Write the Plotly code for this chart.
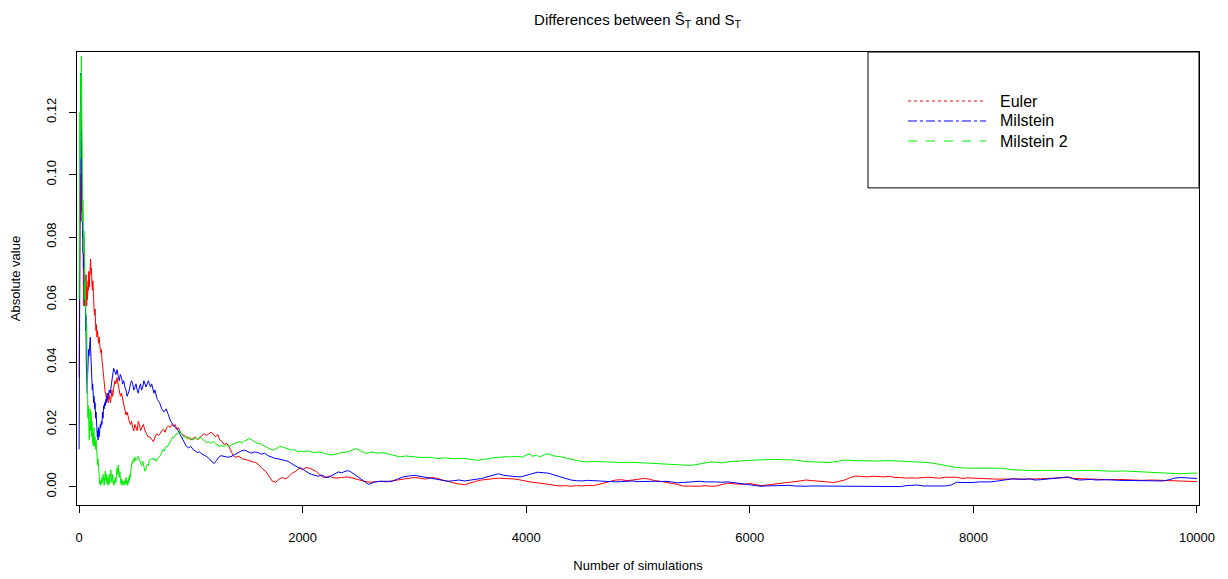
import plotly.graph_objects as go

# Euler (red, dotted)
euler_x = [1, 3, 5, 7, 9, 11, 13, 15, 17, 19, 21, 23, 25, 27, 29, 31, 33, 35, 37, 39, 41, 43, 45, 48, 51, 54, 57, 60, 63, 66, 69, 72, 75, 78, 81, 84, 87, 90, 93, 96, 100, 104, 108, 112, 116, 120, 124, 128, 132, 136, 140, 144, 148, 152, 156, 160, 165, 170, 175, 180, 185, 190, 195, 200, 205, 210, 215, 220, 225, 230, 235, 240, 245, 250, 255, 260, 265, 270, 275, 280, 285, 290, 295, 300, 310, 320, 330, 340, 350, 360, 370, 380, 390, 400, 410, 420, 430, 440, 450, 460, 470, 480, 490, 500, 510, 520, 530, 540, 550, 560, 575, 590, 605, 620, 635, 650, 665, 680, 695, 710, 725, 740, 755, 770, 785, 800, 815, 830, 845, 860, 875, 890, 905, 920, 940, 960, 980, 1000, 1020, 1040, 1060, 1080, 1100, 1120, 1140, 1160, 1180, 1200, 1220, 1240, 1260, 1280, 1300, 1320, 1340, 1360, 1380, 1400, 1430, 1460, 1490, 1520, 1550, 1580, 1610, 1640, 1670, 1700, 1730, 1760, 1790, 1820, 1850, 1880, 1910, 1940, 1970, 2000, 2030, 2060, 2090, 2120, 2150, 2180, 2210, 2240, 2270, 2300, 2350, 2400, 2450, 2500, 2550, 2600, 2650, 2700, 2750, 2800, 2850, 2900, 2950, 3000, 3050, 3100, 3150, 3200, 3250, 3300, 3350, 3400, 3450, 3500, 3550, 3600, 3650, 3700, 3750, 3800, 3850, 3900, 3950, 4000, 4050, 4100, 4150, 4200, 4250, 4300, 4350, 4400, 4450, 4500, 4550, 4600, 4650, 4700, 4750, 4800, 4850, 4900, 4950, 5000, 5050, 5100, 5150, 5200, 5250, 5300, 5350, 5400, 5450, 5500, 5550, 5600, 5650, 5700, 5750, 5800, 5850, 5900, 5950, 6000, 6050, 6100, 6150, 6200, 6250, 6300, 6350, 6400, 6450, 6500, 6550, 6600, 6650, 6700, 6750, 6800, 6850, 6900, 6950, 7000, 7050, 7100, 7150, 7200, 7250, 7300, 7350, 7400, 7450, 7500, 7550, 7600, 7650, 7700, 7750, 7800, 7850, 7900, 7950, 8000, 8100, 8200, 8300, 8400, 8500, 8600, 8700, 8800, 8850, 8900, 9000, 9100, 9200, 9300, 9400, 9500, 9600, 9700, 9800, 9900, 10000]
euler_y = [0.035, 0.062, 0.09, 0.075, 0.095, 0.085, 0.1, 0.09, 0.098, 0.088, 0.105, 0.095, 0.1, 0.092, 0.085, 0.09, 0.078, 0.08, 0.07, 0.075, 0.062, 0.058, 0.06, 0.066, 0.058, 0.064, 0.061, 0.065, 0.068, 0.06, 0.058, 0.064, 0.06, 0.062, 0.066, 0.063, 0.069, 0.066, 0.064, 0.068, 0.07, 0.073, 0.068, 0.07, 0.065, 0.063, 0.066, 0.06, 0.058, 0.056, 0.055, 0.057, 0.052, 0.05, 0.052, 0.048, 0.05, 0.047, 0.046, 0.048, 0.045, 0.044, 0.043, 0.044, 0.041, 0.039, 0.036, 0.034, 0.033, 0.031, 0.03, 0.03, 0.028, 0.03, 0.029, 0.027, 0.03, 0.028, 0.029, 0.027, 0.028, 0.03, 0.031, 0.029, 0.032, 0.034, 0.033, 0.035, 0.033, 0.031, 0.029, 0.03, 0.028, 0.027, 0.025, 0.023, 0.024, 0.022, 0.021, 0.02, 0.021, 0.019, 0.018, 0.02, 0.019, 0.018, 0.021, 0.02, 0.018, 0.019, 0.02, 0.018, 0.017, 0.016, 0.016, 0.015, 0.0145, 0.016, 0.017, 0.0165, 0.017, 0.018, 0.0185, 0.0175, 0.019, 0.0195, 0.019, 0.02, 0.0195, 0.02, 0.0185, 0.019, 0.0175, 0.017, 0.0165, 0.016, 0.0158, 0.015, 0.0155, 0.016, 0.015, 0.0158, 0.0165, 0.017, 0.0165, 0.017, 0.0175, 0.017, 0.016, 0.0168, 0.015, 0.0145, 0.0135, 0.014, 0.013, 0.0115, 0.01, 0.0095, 0.0098, 0.009, 0.0088, 0.0085, 0.008, 0.0078, 0.007, 0.0058, 0.005, 0.0035, 0.0018, 0.0015, 0.0025, 0.003, 0.0025, 0.0035, 0.0045, 0.005, 0.006, 0.0055, 0.0062, 0.006, 0.0055, 0.005, 0.004, 0.0032, 0.003, 0.0035, 0.003, 0.0028, 0.003, 0.0032, 0.0028, 0.0022, 0.0018, 0.0015, 0.0017, 0.0018, 0.0016, 0.002, 0.0022, 0.0025, 0.0028, 0.003, 0.0028, 0.0025, 0.003, 0.0028, 0.0022, 0.0017, 0.0012, 0.0009, 0.0007, 0.0013, 0.0018, 0.0022, 0.0025, 0.0026, 0.0028, 0.0027, 0.0028, 0.0025, 0.0022, 0.0018, 0.0015, 0.0013, 0.0011, 0.0008, 0.0005, 0.0003, 0.0004, 0.0002, 0.0004, 0.0003, 0.0005, 0.0004, 0.0008, 0.0012, 0.0016, 0.0022, 0.0023, 0.002, 0.0022, 0.0024, 0.0027, 0.0025, 0.002, 0.0018, 0.0015, 0.0012, 0.0008, 0.0003, 0.0002, 0.0003, 0.0002, 0.0004, 0.0002, 0.0003, 0.0008, 0.0012, 0.001, 0.0009, 0.0008, 0.0011, 0.0007, 0.0004, 0.0006, 0.0008, 0.0009, 0.0012, 0.0014, 0.0016, 0.0019, 0.0022, 0.002, 0.0018, 0.0017, 0.0015, 0.0014, 0.0018, 0.0022, 0.003, 0.0035, 0.0033, 0.0032, 0.0034, 0.0033, 0.0032, 0.0034, 0.003, 0.003, 0.0028, 0.0029, 0.0028, 0.003, 0.0031, 0.0029, 0.0028, 0.0031, 0.0032, 0.0031, 0.0027, 0.0029, 0.0028, 0.0026, 0.0025, 0.0025, 0.0024, 0.0025, 0.0026, 0.0028, 0.003, 0.003, 0.0027, 0.0025, 0.0024, 0.0023, 0.0024, 0.0022, 0.0021, 0.0022, 0.0021, 0.002, 0.0018, 0.0017]

# Milstein (blue, dash-dot)
milstein_x = [1, 3, 5, 7, 9, 11, 13, 15, 17, 19, 21, 23, 25, 27, 29, 31, 33, 35, 37, 39, 41, 44, 47, 50, 53, 56, 59, 62, 65, 68, 71, 74, 77, 80, 83, 86, 89, 92, 95, 98, 101, 104, 107, 110, 113, 116, 119, 122, 125, 128, 131, 134, 137, 140, 143, 146, 149, 152, 155, 158, 161, 164, 167, 170, 173, 176, 180, 185, 190, 195, 200, 205, 210, 215, 220, 225, 230, 235, 240, 245, 250, 255, 260, 265, 270, 280, 290, 300, 310, 320, 330, 340, 350, 360, 370, 380, 390, 400, 410, 420, 430, 440, 450, 460, 470, 480, 490, 500, 510, 520, 530, 540, 550, 560, 570, 580, 590, 600, 610, 620, 630, 640, 650, 660, 670, 680, 690, 700, 720, 740, 760, 780, 800, 820, 840, 860, 880, 900, 920, 940, 960, 980, 1000, 1020, 1040, 1060, 1080, 1100, 1130, 1160, 1190, 1210, 1230, 1250, 1270, 1300, 1330, 1360, 1390, 1420, 1450, 1480, 1510, 1540, 1570, 1600, 1630, 1660, 1690, 1720, 1750, 1780, 1810, 1840, 1870, 1900, 1930, 1960, 1990, 2020, 2050, 2080, 2110, 2140, 2170, 2200, 2230, 2260, 2290, 2320, 2350, 2380, 2410, 2440, 2470, 2500, 2530, 2560, 2590, 2620, 2650, 2700, 2750, 2800, 2850, 2900, 2950, 3000, 3050, 3100, 3150, 3200, 3250, 3300, 3350, 3400, 3450, 3500, 3550, 3600, 3650, 3700, 3750, 3800, 3850, 3900, 3950, 4000, 4050, 4100, 4150, 4200, 4250, 4300, 4350, 4400, 4450, 4500, 4550, 4600, 4650, 4700, 4750, 4800, 4850, 4900, 4950, 5000, 5050, 5100, 5150, 5200, 5250, 5300, 5350, 5400, 5450, 5500, 5550, 5600, 5650, 5700, 5750, 5800, 5850, 5900, 5950, 6000, 6050, 6100, 6150, 6200, 6250, 6300, 6350, 6400, 6450, 6500, 6550, 6600, 6650, 6700, 6750, 6800, 6850, 6900, 6950, 7000, 7050, 7100, 7150, 7200, 7250, 7300, 7350, 7400, 7450, 7500, 7550, 7600, 7650, 7700, 7750, 7800, 7850, 7900, 7950, 8000, 8050, 8100, 8150, 8200, 8250, 8300, 8350, 8400, 8450, 8500, 8550, 8600, 8650, 8700, 8750, 8800, 8850, 8900, 8950, 9000, 9050, 9100, 9200, 9300, 9400, 9500, 9600, 9700, 9750, 9800, 9850, 9900, 9950, 10000]
milstein_y = [0.012, 0.04, 0.09, 0.07, 0.11, 0.1, 0.125, 0.1325, 0.12, 0.1, 0.11, 0.095, 0.1, 0.09, 0.085, 0.088, 0.08, 0.082, 0.075, 0.078, 0.07, 0.08, 0.065, 0.072, 0.06, 0.066, 0.05, 0.055, 0.04, 0.033, 0.038, 0.03, 0.036, 0.042, 0.04, 0.044, 0.042, 0.045, 0.047, 0.046, 0.048, 0.044, 0.04, 0.035, 0.032, 0.034, 0.031, 0.033, 0.029, 0.03, 0.027, 0.029, 0.026, 0.025, 0.027, 0.023, 0.022, 0.024, 0.02, 0.018, 0.017, 0.016, 0.018, 0.015, 0.017, 0.019, 0.016, 0.018, 0.02, 0.019, 0.021, 0.02, 0.024, 0.022, 0.026, 0.025, 0.027, 0.026, 0.028, 0.027, 0.029, 0.028, 0.03, 0.029, 0.031, 0.03, 0.033, 0.035, 0.038, 0.037, 0.036, 0.0375, 0.035, 0.034, 0.036, 0.035, 0.033, 0.034, 0.032, 0.031, 0.029, 0.03, 0.031, 0.033, 0.034, 0.033, 0.031, 0.032, 0.033, 0.031, 0.03, 0.032, 0.033, 0.031, 0.032, 0.034, 0.033, 0.032, 0.033, 0.034, 0.033, 0.032, 0.033, 0.031, 0.03, 0.031, 0.029, 0.028, 0.027, 0.025, 0.024, 0.025, 0.023, 0.021, 0.02, 0.019, 0.0185, 0.017, 0.016, 0.0145, 0.013, 0.0125, 0.013, 0.012, 0.0115, 0.011, 0.0112, 0.0105, 0.01, 0.0092, 0.008, 0.0075, 0.0085, 0.0095, 0.01, 0.0098, 0.0095, 0.0097, 0.0103, 0.011, 0.0115, 0.0118, 0.0112, 0.0108, 0.0112, 0.011, 0.0105, 0.0108, 0.01, 0.0095, 0.0092, 0.009, 0.0088, 0.0086, 0.0082, 0.0075, 0.0068, 0.0062, 0.006, 0.0052, 0.0045, 0.004, 0.0036, 0.0034, 0.0038, 0.0032, 0.003, 0.0035, 0.0042, 0.0048, 0.0045, 0.005, 0.0052, 0.0046, 0.0038, 0.003, 0.0022, 0.0015, 0.0008, 0.0012, 0.0016, 0.0018, 0.0017, 0.0018, 0.0025, 0.0032, 0.0035, 0.0037, 0.0034, 0.0031, 0.0028, 0.0025, 0.0022, 0.0018, 0.002, 0.0022, 0.0019, 0.0021, 0.0024, 0.0027, 0.0032, 0.0038, 0.0042, 0.0037, 0.0034, 0.0033, 0.0032, 0.0036, 0.0042, 0.0047, 0.0046, 0.0044, 0.0038, 0.0033, 0.0028, 0.0022, 0.002, 0.0019, 0.0021, 0.002, 0.0018, 0.0019, 0.0017, 0.0016, 0.0017, 0.0018, 0.0019, 0.0017, 0.0018, 0.0019, 0.0018, 0.0017, 0.0018, 0.0016, 0.0013, 0.0014, 0.0016, 0.0017, 0.0018, 0.0016, 0.0017, 0.0016, 0.0015, 0.0016, 0.0014, 0.0012, 0.0011, 0.0007, 0.0004, 0.0002, 0.0003, 0.0004, 0.0005, 0.0006, 0.0005, 0.0003, 0.0002, 0.0002, 0.0003, 0.0003, 0.0002, 0.0003, 0.0002, 0.0001, 0.0002, 0.0002, 0.0001, 0.0002, 0.0003, 0.0003, 0.0002, 0.0003, 0.0002, 0.0002, 0.0001, 0.0004, 0.0006, 0.0006, 0.0003, 0.0003, 0.0002, 0.0001, 0.0003, 0.0006, 0.0015, 0.0014, 0.0013, 0.0014, 0.0016, 0.0015, 0.0016, 0.0018, 0.0021, 0.0024, 0.0026, 0.0025, 0.0024, 0.0026, 0.0022, 0.0023, 0.0025, 0.0027, 0.0028, 0.003, 0.0032, 0.0025, 0.0022, 0.0023, 0.0024, 0.0022, 0.0023, 0.0021, 0.002, 0.0019, 0.0018, 0.0019, 0.0023, 0.0028, 0.003, 0.0029, 0.0028, 0.0027]

# Milstein 2 (green, dashed)
milstein2_x = [1, 3, 5, 7, 9, 11, 13, 15, 17, 19, 21, 23, 25, 27, 29, 31, 33, 35, 37, 39, 41, 44, 47, 50, 53, 56, 59, 62, 65, 68, 71, 74, 77, 80, 83, 86, 89, 92, 95, 98, 101, 104, 107, 110, 113, 116, 119, 122, 125, 128, 131, 134, 137, 140, 143, 146, 149, 152, 155, 158, 161, 164, 167, 170, 173, 176, 179, 182, 185, 188, 191, 195, 200, 205, 210, 215, 220, 225, 230, 235, 240, 245, 250, 255, 260, 265, 270, 275, 280, 285, 290, 295, 300, 305, 310, 315, 320, 325, 330, 335, 340, 345, 350, 355, 360, 365, 370, 375, 380, 385, 390, 395, 400, 405, 410, 415, 420, 425, 430, 435, 440, 445, 450, 455, 460, 465, 470, 475, 480, 485, 490, 495, 500, 510, 520, 530, 540, 550, 560, 570, 580, 590, 600, 610, 620, 630, 640, 650, 660, 670, 680, 690, 700, 710, 720, 730, 740, 750, 760, 770, 780, 790, 800, 810, 820, 830, 840, 850, 860, 870, 880, 890, 900, 910, 920, 930, 940, 950, 960, 970, 980, 990, 1000, 1020, 1040, 1060, 1080, 1100, 1120, 1140, 1160, 1180, 1200, 1220, 1240, 1260, 1280, 1300, 1320, 1340, 1360, 1380, 1400, 1420, 1440, 1460, 1480, 1500, 1520, 1540, 1560, 1580, 1600, 1620, 1640, 1660, 1680, 1700, 1720, 1740, 1760, 1780, 1800, 1820, 1840, 1860, 1880, 1900, 1920, 1940, 1960, 1980, 2000, 2050, 2100, 2150, 2200, 2250, 2300, 2350, 2400, 2450, 2480, 2520, 2570, 2620, 2670, 2720, 2770, 2820, 2870, 2920, 2970, 3020, 3070, 3120, 3170, 3220, 3270, 3320, 3370, 3420, 3470, 3520, 3570, 3620, 3670, 3720, 3770, 3820, 3870, 3920, 3970, 4000, 4030, 4060, 4090, 4120, 4150, 4180, 4210, 4250, 4300, 4350, 4400, 4450, 4500, 4550, 4600, 4650, 4700, 4750, 4800, 4850, 4900, 4950, 5000, 5050, 5100, 5150, 5200, 5250, 5300, 5350, 5400, 5450, 5500, 5550, 5600, 5650, 5700, 5750, 5800, 5850, 5900, 5950, 6000, 6100, 6200, 6300, 6400, 6500, 6600, 6700, 6750, 6850, 6950, 7050, 7150, 7250, 7300, 7400, 7500, 7600, 7700, 7750, 7800, 7850, 7950, 8050, 8150, 8250, 8350, 8450, 8550, 8650, 8750, 8850, 8950, 9050, 9150, 9250, 9350, 9450, 9550, 9650, 9750, 9850, 9950, 10000]
milstein2_y = [0.06, 0.095, 0.07, 0.1, 0.12, 0.105, 0.128, 0.12, 0.132, 0.125, 0.138, 0.12, 0.1, 0.11, 0.09, 0.1, 0.085, 0.092, 0.08, 0.088, 0.075, 0.082, 0.068, 0.074, 0.06, 0.066, 0.055, 0.06, 0.048, 0.052, 0.04, 0.035, 0.03, 0.022, 0.026, 0.018, 0.024, 0.015, 0.02, 0.025, 0.022, 0.018, 0.024, 0.02, 0.016, 0.021, 0.018, 0.014, 0.017, 0.013, 0.016, 0.019, 0.015, 0.013, 0.016, 0.014, 0.012, 0.015, 0.013, 0.01, 0.012, 0.009, 0.007, 0.009, 0.006, 0.004, 0.005, 0.003, 0.001, 0.002, 0.0005, 0.002, 0.001, 0.003, 0.0015, 0.004, 0.002, 0.0005, 0.003, 0.005, 0.002, 0.004, 0.001, 0.003, 0.0005, 0.002, 0.004, 0.001, 0.003, 0.0055, 0.003, 0.0015, 0.004, 0.002, 0.0005, 0.002, 0.001, 0.003, 0.0015, 0.0035, 0.006, 0.004, 0.007, 0.0045, 0.003, 0.005, 0.002, 0.001, 0.0025, 0.0005, 0.002, 0.001, 0.0015, 0.0005, 0.002, 0.001, 0.003, 0.0015, 0.0005, 0.002, 0.001, 0.003, 0.002, 0.004, 0.003, 0.0055, 0.0065, 0.008, 0.0075, 0.009, 0.0085, 0.008, 0.0095, 0.0085, 0.0092, 0.0098, 0.0088, 0.0075, 0.0068, 0.0082, 0.0065, 0.005, 0.0058, 0.0072, 0.0068, 0.0085, 0.009, 0.0088, 0.0092, 0.0086, 0.009, 0.0082, 0.0088, 0.0095, 0.0098, 0.0102, 0.011, 0.012, 0.0115, 0.0125, 0.013, 0.0128, 0.0135, 0.0145, 0.015, 0.0155, 0.016, 0.0158, 0.0165, 0.017, 0.0168, 0.0175, 0.018, 0.0175, 0.017, 0.0165, 0.0158, 0.0162, 0.0155, 0.0152, 0.0158, 0.016, 0.0155, 0.015, 0.0158, 0.0152, 0.016, 0.0155, 0.0148, 0.0142, 0.0145, 0.014, 0.0145, 0.0138, 0.0135, 0.013, 0.0133, 0.0128, 0.0135, 0.013, 0.0133, 0.0138, 0.014, 0.0142, 0.0145, 0.014, 0.0148, 0.015, 0.0155, 0.0152, 0.0148, 0.0142, 0.0138, 0.014, 0.0135, 0.013, 0.0128, 0.0122, 0.012, 0.0118, 0.0122, 0.0125, 0.013, 0.0128, 0.0125, 0.0122, 0.012, 0.0118, 0.012, 0.0115, 0.0112, 0.0115, 0.0113, 0.0115, 0.011, 0.0112, 0.0108, 0.0102, 0.0105, 0.011, 0.0112, 0.0118, 0.0123, 0.0115, 0.0107, 0.0112, 0.0108, 0.011, 0.0105, 0.01, 0.0096, 0.0099, 0.0097, 0.0096, 0.0094, 0.0095, 0.0093, 0.0091, 0.0093, 0.0091, 0.009, 0.0092, 0.009, 0.0087, 0.0085, 0.0088, 0.0092, 0.0094, 0.0095, 0.0097, 0.0096, 0.0098, 0.0095, 0.0102, 0.0105, 0.0098, 0.0102, 0.0096, 0.0101, 0.0106, 0.0104, 0.0099, 0.0097, 0.0093, 0.0091, 0.0085, 0.0081, 0.008, 0.0082, 0.0081, 0.008, 0.0081, 0.0079, 0.0078, 0.0079, 0.0079, 0.0078, 0.0077, 0.0076, 0.0075, 0.0073, 0.0071, 0.0071, 0.007, 0.0069, 0.0069, 0.007, 0.0073, 0.0077, 0.008, 0.0079, 0.0077, 0.008, 0.0082, 0.0083, 0.0084, 0.0085, 0.0087, 0.0088, 0.0087, 0.0086, 0.0081, 0.0079, 0.0078, 0.008, 0.0086, 0.0084, 0.0083, 0.0083, 0.0084, 0.0083, 0.008, 0.0078, 0.0078, 0.0072, 0.0068, 0.0065, 0.0062, 0.006, 0.006, 0.0061, 0.006, 0.0055, 0.0053, 0.0052, 0.0053, 0.0052, 0.0053, 0.0052, 0.0053, 0.0051, 0.005, 0.0051, 0.0049, 0.0046, 0.0046, 0.0044, 0.0042, 0.0044, 0.0044]

series_names = ['Euler', 'Milstein', 'Milstein 2']
series_colors = ['red', 'blue', '#00ee00']
series_dashes = ['dot', 'dashdot', 'dash']

x_ticks = [0, 2000, 4000, 6000, 8000, 10000]
y_ticks = [0.00, 0.02, 0.04, 0.06, 0.08, 0.10, 0.12]

FONT = 'Liberation Sans, Arial, sans-serif'

fig = go.Figure()
# dense simulation paths look almost solid in the original, so draw them solid
for xs, ys, name, col in zip([euler_x, milstein_x, milstein2_x],
                             [euler_y, milstein_y, milstein2_y],
                             series_names, series_colors):
    fig.add_trace(go.Scatter(x=xs, y=ys, mode='lines', name=name, showlegend=False,
                             line=dict(color=col, width=1)))

# R style legend: boxed, long sample lines with the line types
fig.add_shape(type='rect', xref='paper', yref='paper', x0=0.705, x1=1.0, y0=0.70, y1=1.0,
              line=dict(color='black', width=1), fillcolor='rgba(0,0,0,0)')
leg_y = [0.8918, 0.8477, 0.8035]
for i, name in enumerate(series_names):
    fig.add_shape(type='line', xref='paper', yref='paper', x0=0.7406, x1=0.8102,
                  y0=leg_y[i], y1=leg_y[i],
                  line=dict(color=series_colors[i], width=1, dash=series_dashes[i]))
    fig.add_annotation(text=name, xref='paper', yref='paper', x=0.8209, y=leg_y[i],
                       xanchor='left', yanchor='middle', showarrow=False,
                       font=dict(size=16, family=FONT, color='black'))

fig.update_layout(
    width=1220, height=571,
    paper_bgcolor='white', plot_bgcolor='white',
    margin=dict(l=69, r=29, t=44, b=74),
    font=dict(family=FONT, color='black', size=13),
    title=dict(text='Differences between Ŝ<sub>T</sub> and S<sub>T</sub>',
               x=0.516, xanchor='center', y=0.979, yanchor='middle',
               font=dict(size=15)),
    showlegend=False,
    xaxis=dict(range=[-18, 10018], tickvals=x_ticks, ticktext=[str(v) for v in x_ticks],
               showgrid=False, zeroline=False, showline=True, mirror=True,
               linecolor='black', linewidth=1, ticks='outside', ticklen=7,
               tickcolor='black', tickfont=dict(size=13), ticklabelstandoff=13,
               automargin=False,
               title=dict(text='Number of simulations', standoff=17, font=dict(size=13))),
    yaxis=dict(range=[-0.0058, 0.1393], tickvals=y_ticks,
               ticktext=['%.2f' % v for v in y_ticks], tickangle=-90,
               showgrid=False, zeroline=False, showline=True, mirror=True,
               linecolor='black', linewidth=1, ticks='outside', ticklen=7,
               tickcolor='black', tickfont=dict(size=13), ticklabelstandoff=8,
               automargin=False,
               title=dict(text='Absolute value', standoff=20, font=dict(size=13))),
)

fig.write_html("out.html")
